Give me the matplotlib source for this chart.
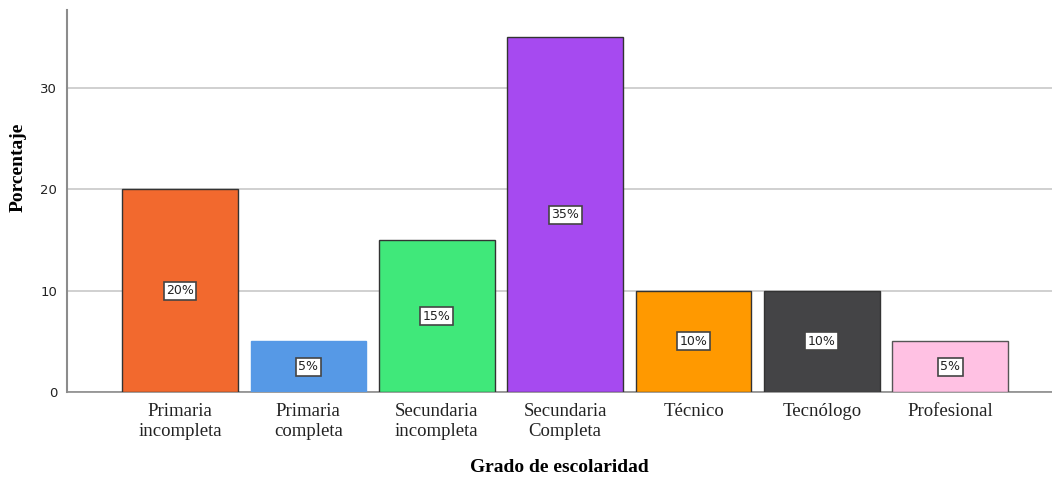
import matplotlib.pyplot as plt

# Grado de escolaridad - porcentajes
categorias = ["Primaria\nincompleta", "Primaria\ncompleta", "Secundaria\nincompleta",
              "Secundaria\nCompleta", "Técnico", "Tecnólogo", "Profesional"]
porcentajes = [20, 5, 15, 35, 10, 10, 5]
colores = ["#F2692E", "#5699E6", "#40E87A", "#A64AF0", "#FF9900", "#444446", "#FFC1E3"]
bordes = ["#333333", "#5699E6", "#333333", "#333333", "#333333", "#333333", "#555555"]
yticks = [0, 10, 20, 30]

fig = plt.figure(figsize=(10.52, 4.8), dpi=100)
ax = fig.add_axes([0.0637, 0.1833, 0.936, 0.7957])

x = range(len(categorias))
ax.bar(x, porcentajes, width=0.9, color=colores, edgecolor=bordes, linewidth=1.0, zorder=3)

for xi, v in zip(x, porcentajes):
    ax.text(xi, v / 2, f"{v}%", ha="center", va="center", fontsize=9,
            family="DejaVu Sans", color="#222222", zorder=4,
            bbox=dict(boxstyle="square,pad=0.2", fc="white", ec="#444444", lw=1.2))

ax.set_xlim(-0.88, 6.79)
ax.set_ylim(0, 37.7)
ax.set_yticks(yticks)
ax.yaxis.grid(True, color="#C8C8C8", linewidth=1.2, zorder=0)
ax.set_axisbelow(True)

ax.set_xticks(list(x))
ax.set_xticklabels(categorias, family="Liberation Serif", fontsize=13.5, linespacing=1.2)
for lbl in ax.get_yticklabels():
    lbl.set_family("DejaVu Sans")
    lbl.set_fontsize(9.5)
ax.tick_params(axis="x", length=0, pad=8, colors="#222222")
ax.tick_params(axis="y", length=0, pad=7, colors="#222222")

for s in ["top", "right"]:
    ax.spines[s].set_visible(False)
ax.spines["left"].set_color("#8C8C8C")
ax.spines["left"].set_linewidth(1.5)
ax.spines["bottom"].set_color("#8C8C8C")
ax.spines["bottom"].set_linewidth(1.2)

ax.set_ylabel("Porcentaje", family="Liberation Serif", fontweight="bold", fontsize=14)
ax.yaxis.set_label_coords(-0.041, 0.589)
ax.set_xlabel("Grado de escolaridad", family="Liberation Serif", fontweight="bold", fontsize=14, labelpad=14)

fig.savefig("out.png", dpi=100)
